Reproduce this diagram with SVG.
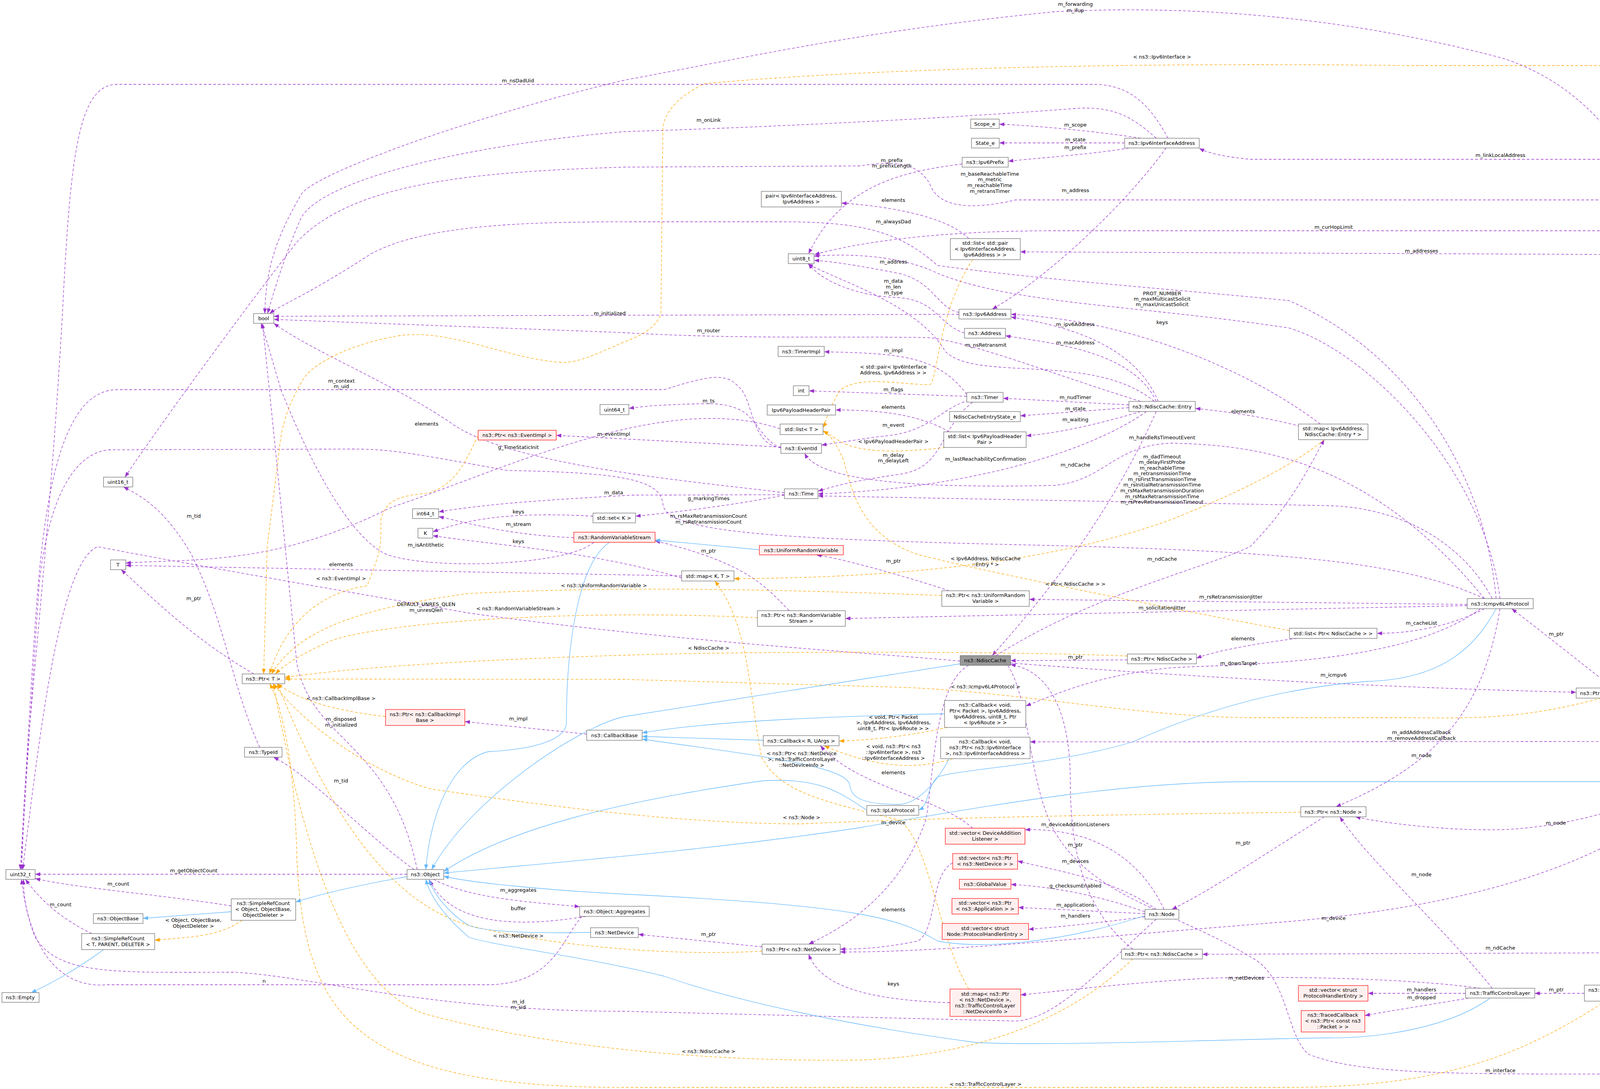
<svg xmlns="http://www.w3.org/2000/svg" width="4821" height="2789" viewBox="0 0 4821 2789">
<style>
text{font-family:"DejaVu Sans","Liberation Sans",sans-serif;font-size:13px;fill:#000}
.nd text,text.c{text-anchor:middle}
.nd rect{fill:#fff;stroke:#666;stroke-width:1.2}
.nd.r rect{fill:#fff0f0;stroke:#f00}
.nd.g rect{fill:#999;stroke:#666}
.p{fill:none;stroke:#9a32cd;stroke-width:1.3;stroke-dasharray:7,5;marker-end:url(#mp)}
.o{fill:none;stroke:#ffa500;stroke-width:1.3;stroke-dasharray:7,5;marker-end:url(#mo)}
.b{fill:none;stroke:#63b8ff;stroke-width:1.3;marker-end:url(#mb)}
</style>
<defs>
<marker id="mp" markerUnits="userSpaceOnUse" markerWidth="14" markerHeight="12" refX="13" refY="5" orient="auto"><path d="M0,0L13,5L0,10z" fill="#9a32cd"/></marker>
<marker id="mo" markerUnits="userSpaceOnUse" markerWidth="14" markerHeight="12" refX="13" refY="5" orient="auto"><path d="M0,0L13,5L0,10z" fill="#ffa500"/></marker>
<marker id="mb" markerUnits="userSpaceOnUse" markerWidth="14" markerHeight="12" refX="13" refY="5" orient="auto"><path d="M0,0L13,5L0,10z" fill="#63b8ff"/></marker>
</defs>
<rect width="4821" height="2789" fill="#fff"/>
<g id="edges">
<path class="p" d="M4430,1886C4400,900 4300,300 3850,150C3400,30 3000,15 2700,30C2200,80 1900,150 1600,205C1200,300 790,450 770,500C700,620 680,700 678,803"/>
<path class="p" d="M2990,354C2950,280 2900,216 2800,216L300,216C200,216 180,400 160,800C120,1500 60,1900 55,2227"/>
<path class="p" d="M2960,354C2900,300 2850,270 2750,278C2200,320 1600,337 1600,337C1200,370 820,460 770,560C730,650 700,750 685,803"/>
<path class="p" d="M2920,354C2800,335 2650,322 2558,318"/>
<path class="p" d="M2879,366L2558,366"/>
<path class="p" d="M2890,379C2800,395 2650,405 2581,413"/>
<path class="p" d="M2463,420C2300,440 2150,480 2070,650"/>
<path class="p" d="M4420,1886C4380,1000 4330,560 4150,512L2600,512C2480,540 2400,530 2380,470C2350,420 2300,410 2200,425L1600,428C1200,440 900,470 760,620C650,760 400,1100 320,1222"/>
<path class="p" d="M2985,379C2900,500 2700,700 2540,792"/>
<path class="p" d="M2480,611C2430,560 2300,530 2154,520"/>
<path class="p" d="M3830,1533C3800,1200 3600,900 3300,770C3000,740 2700,720 2400,680C2300,590 2200,568 2000,568L1660,568C1400,568 1100,568 950,650C780,760 720,780 690,803"/>
<path class="p" d="M4425,1886C4400,900 4300,600 4200,591L2700,591C2400,591 2200,620 2085,652"/>
<path class="p" d="M4415,1886C4380,1100 4300,700 4170,652L2612,645"/>
<path class="p" d="M4435,1886C4420,1000 4400,500 4250,408L3200,408C3120,400 3090,390 3070,380"/>
<path class="p" d="M2455,800C2400,790 2390,720 2300,700C2200,680 2120,668 2084,667"/>
<path class="p" d="M2469,853C2400,830 2400,770 2300,762C2200,760 2100,720 2070,675"/>
<path class="p" d="M3840,1533C3800,1200 3500,900 3300,840C2900,780 2600,780 2400,700C2300,650 2150,650 2084,656"/>
<path class="p" d="M3380,1086C3200,950 2900,820 2588,805"/>
<path class="p" d="M2455,805L701,810"/>
<path class="p" d="M2920,1028C2700,960 2500,880 2380,865C2200,860 1900,870 1600,852L701,818"/>
<path class="p" d="M2965,1028C2900,870 2700,830 2588,812"/>
<path class="p" d="M2960,1028C2900,900 2700,880 2574,860"/>
<path class="p" d="M2955,1028C2800,900 2500,980 2420,900C2350,780 2150,720 2068,676"/>
<path class="p" d="M2475,1010C2400,910 2300,905 2110,901"/>
<path class="p" d="M2475,1015L2071,1001"/>
<path class="p" d="M2890,1037L2568,1020"/>
<path class="p" d="M1999,1148C1920,1110 1950,1030 1800,1034C1700,1036 1650,1040 1610,1046"/>
<path class="p" d="M2430,1106C2350,1060 2250,1050 2139,1050"/>
<path class="p" d="M2890,1044L2612,1065"/>
<path class="p" d="M2920,1054C2800,1090 2700,1110 2627,1116"/>
<path class="p" d="M2480,1025C2400,1050 2380,1110 2250,1118L2103,1140"/>
<path class="p" d="M2490,1030C2400,1100 2420,1200 2300,1215C2200,1230 2150,1240 2094,1258"/>
<path class="p" d="M2935,1054C2800,1150 2500,1250 2094,1265"/>
<path class="p" d="M2960,1054C2850,1300 2700,1500 2540,1679"/>
<path class="p" d="M3800,1533C3500,1165 3200,1140 3000,1135C2850,1140 2830,1230 2700,1243C2400,1250 2100,1240 2060,1161"/>
<path class="p" d="M3820,1533C3750,1400 3600,1300 3400,1295L2094,1270"/>
<path class="p" d="M2008,1268C1900,1290 1750,1310 1627,1322"/>
<path class="p" d="M3800,1533C3600,1440 3300,1410 2600,1395C2000,1380 1700,1365 1697,1290C1690,1230 1600,1210 1300,1205C1050,1160 1000,1150 900,1150L280,1152C180,1160 120,1300 100,1500C80,1800 60,2100 55,2227"/>
<path class="p" d="M1999,1146C1920,1140 1930,1020 1890,990C1860,955 1820,960 1700,998L300,998C150,998 110,1300 90,1600C70,1900 60,2100 52,2227"/>
<path class="p" d="M1997,1098C1700,1000 1300,1200 1000,1300C700,1450 500,1430 322,1442"/>
<path class="p" d="M1745,1475L322,1448"/>
<path class="p" d="M1999,1145L1424,1115"/>
<path class="p" d="M2008,1262C1800,1235 1300,1195 1150,1080C1000,980 800,900 701,828"/>
<path class="p" d="M2008,1267L1620,1268C1400,1280 1250,1290 1123,1311"/>
<path class="p" d="M1518,1322C1300,1310 1200,1330 1108,1362"/>
<path class="p" d="M1469,1377C1300,1370 1200,1340 1123,1323"/>
<path class="p" d="M1745,1480C1500,1410 1300,1400 1108,1372"/>
<path class="p" d="M1520,1389C1450,1450 1100,1460 990,1420C900,1380 800,1200 720,1000C690,900 680,860 668,828"/>
<path class="p" d="M650,1726C500,1640 400,1540 310,1459"/>
<path class="p" d="M2458,1693C2200,1670 1700,1640 1200,1570C800,1500 400,1430 250,1400C150,1440 100,1900 58,2227"/>
<path class="p" d="M1502,1880L1190,1848"/>
<path class="p" d="M1068,2227C1000,1900 800,1900 760,1700C720,1300 690,1000 672,828"/>
<path class="p" d="M1060,2227C950,2150 800,1990 700,1939"/>
<path class="p" d="M665,1914C590,1750 580,1600 490,1420C420,1300 360,1270 316,1247"/>
<path class="p" d="M1042,2239L90,2239"/>
<path class="p" d="M592,2320C400,2290 200,2275 90,2250"/>
<path class="p" d="M235,2391C150,2350 100,2300 65,2252"/>
<path class="p" d="M1110,2252C1200,2300 1350,2310 1484,2322"/>
<path class="p" d="M1500,2347C1300,2380 1150,2360 1100,2254"/>
<path class="p" d="M1490,2347C1440,2400 1420,2520 1250,2522L270,2522C180,2530 80,2470 55,2252"/>
<path class="p" d="M2960,2354C2800,2500 2700,2610 2600,2615L1600,2590C1100,2590 800,2500 600,2490C300,2490 150,2500 90,2400C70,2350 60,2300 60,2252"/>
<path class="p" d="M1951,2425L1634,2393"/>
<path class="p" d="M2432,2568C2200,2560 2100,2520 2070,2444"/>
<path class="p" d="M2439,2210C2380,2240 2400,2380 2350,2410C2250,2430 2200,2430 2151,2431"/>
<path class="p" d="M2490,2121C2400,2040 2200,2020 2100,1910"/>
<path class="p" d="M2480,1704C2390,1750 2390,2000 2370,2100C2300,2300 2150,2380 2070,2418"/>
<path class="p" d="M2020,1564C1950,1490 1900,1440 1677,1385"/>
<path class="p" d="M2430,1513C2300,1470 2150,1430 2090,1421"/>
<path class="p" d="M2550,1679C2800,1520 3100,1450 3200,1400C3300,1300 3350,1200 3390,1126"/>
<path class="p" d="M3756,1548L2635,1535"/>
<path class="p" d="M3756,1551L2164,1584"/>
<path class="p" d="M3320,1635C3200,1650 3100,1670 3063,1686"/>
<path class="p" d="M2886,1690L2587,1692"/>
<path class="p" d="M3790,1559C3600,1700 3200,1700 3000,1710C2800,1730 2700,1780 2626,1808"/>
<path class="p" d="M2587,1698C3000,1730 3500,1760 4035,1773"/>
<path class="p" d="M2960,2329C2850,2250 2700,2230 2605,2205"/>
<path class="p" d="M2980,2329C2920,2200 2800,2120 2624,2125"/>
<path class="p" d="M2931,2335C2800,2290 2700,2272 2588,2265"/>
<path class="p" d="M2931,2340L2607,2324"/>
<path class="p" d="M2931,2348C2800,2365 2700,2375 2633,2380"/>
<path class="p" d="M3390,2092C3250,2180 3100,2280 3000,2329"/>
<path class="p" d="M4400,1912C4300,2100 4000,2300 3300,2360C2800,2400 2400,2440 2151,2438"/>
<path class="p" d="M4410,1912C4350,2200 4300,2430 4200,2440L3078,2444"/>
<path class="p" d="M3790,2531C3600,2505 3300,2500 3100,2505C2900,2515 2700,2540 2613,2548"/>
<path class="p" d="M3840,1559C3800,1800 3700,1950 3420,2066"/>
<path class="p" d="M4410,1912C4300,2050 4000,2130 3800,2125C3700,2125 3550,2110 3470,2092"/>
<path class="p" d="M3820,2531C3700,2380 3500,2200 3430,2092"/>
<path class="p" d="M3800,1559C3700,1610 3600,1622 3525,1622"/>
<path class="p" d="M4130,1762C4050,1700 3950,1620 3870,1559"/>
<path class="p" d="M4368,1899L2637,1900"/>
<path class="p" d="M4597,1899L4506,1899"/>
<path class="p" d="M4430,1912C4420,2200 4400,2470 4260,2523"/>
<path class="p" d="M3752,2544L3502,2544"/>
<path class="p" d="M3760,2556C3650,2575 3550,2590 3494,2601"/>
<path class="p" d="M4056,2544L3929,2544"/>
<path class="p" d="M2580,1704C2640,1800 2630,2000 2700,2130C2800,2300 3000,2330 3200,2450C3300,2500 3290,2650 3350,2700C3500,2760 3800,2750 4400,2750C4550,2750 4600,2300 4706,1912"/>
<path class="p" d="M2900,2431C2800,2350 2740,2230 2740,2000C2740,1850 2700,1720 2587,1702"/>
<path class="p" d="M3340,1095C3250,1070 3150,1055 3060,1046"/>
<path class="o" d="M4706,1886C4650,1200 4550,400 4450,190C4430,170 4420,168 4400,168L3600,168C3000,160 2300,170 1804,214C1750,240 1700,280 1697,330L1692,803C1680,840 1640,860 1600,875C1530,905 1480,930 1438,928C1300,920 1150,840 1020,860C900,880 800,930 775,973C730,1050 720,1100 714,1160L684,1400L675,1726"/>
<path class="o" d="M2490,665C2400,800 2400,980 2380,985C2300,985 2200,960 2150,1000C2120,1050 2110,1090 2107,1095"/>
<path class="o" d="M2420,1146C2300,1160 2200,1160 2150,1130L2107,1103"/>
<path class="o" d="M3301,1615C3000,1560 2500,1460 2350,1420C2200,1370 2180,1250 2160,1180C2140,1130 2120,1110 2107,1105"/>
<path class="o" d="M3390,1126C3300,1200 3150,1270 3000,1330C2700,1440 2300,1480 1879,1482"/>
<path class="o" d="M2480,2533C2400,2400 2380,2150 2300,2100C2100,2050 2000,2030 1950,1940C1920,1800 1920,1600 1830,1488"/>
<path class="o" d="M1224,1116C1200,1160 1178,1235 1100,1262C1040,1270 990,1270 975,1330C975,1400 979,1400 940,1500C900,1507 750,1530 690,1726"/>
<path class="o" d="M2411,1525C2000,1510 1600,1500 1200,1520C900,1560 760,1620 695,1726"/>
<path class="o" d="M1939,1582C1500,1560 1000,1590 850,1640C780,1670 730,1700 705,1726"/>
<path class="o" d="M2886,1680C2500,1665 1800,1670 1600,1678C1200,1690 900,1710 729,1735"/>
<path class="o" d="M4100,1788C3900,1840 3800,1840 3600,1838L3200,1838C2900,1835 2600,1770 2300,1760L1600,1740L729,1739"/>
<path class="o" d="M987,1835C850,1820 760,1790 710,1751"/>
<path class="o" d="M3330,2080C3000,2085 2500,2090 2052,2110C1800,2110 1500,2080 1100,2020C900,1960 750,1820 700,1751"/>
<path class="o" d="M1951,2436C1700,2450 1400,2420 1200,2370C1000,2310 850,2100 710,1751"/>
<path class="o" d="M2900,2456C2800,2550 2600,2700 2200,2715C1800,2720 1400,2680 1100,2600C900,2550 780,2200 700,1751"/>
<path class="o" d="M4110,2564C3900,2700 3700,2784 3300,2785L1600,2785C900,2785 780,2600 760,2200C755,1950 720,1800 690,1751"/>
<path class="o" d="M620,2357C560,2400 480,2400 396,2408"/>
<path class="o" d="M2425,1863C2350,1880 2250,1895 2148,1898"/>
<path class="o" d="M2440,1943C2350,1970 2250,1970 2110,1910"/>
<path class="b" d="M1944,1408L1677,1383"/>
<path class="b" d="M1560,1389C1470,1450 1450,1700 1450,1850C1450,1900 1350,1920 1250,1925C1150,1950 1100,2100 1090,2227"/>
<path class="b" d="M2458,1700C2000,1770 1700,1820 1600,1835C1480,1860 1200,2050 1105,2227"/>
<path class="b" d="M2418,1828C2100,1835 1800,1850 1644,1877"/>
<path class="b" d="M1954,1896L1644,1886"/>
<path class="b" d="M2430,1943C2400,2000 2350,2060 2300,2060C2200,2060 2180,2040 2175,2010C2170,1960 1900,1930 1644,1893"/>
<path class="b" d="M2219,2075C2150,2030 2100,1990 1950,2000C1600,2050 1300,2120 1136,2232"/>
<path class="b" d="M3830,1559C3780,1650 3700,1740 3500,1745C3300,1760 3100,1810 2900,1900C2700,1960 2450,1970 2400,1990C2370,2020 2380,2060 2352,2075"/>
<path class="b" d="M4420,1912C4350,1990 4300,2000 4150,2002L3200,2002C2900,2002 2600,2050 2200,2120C1800,2180 1400,2210 1136,2236"/>
<path class="b" d="M2931,2345C2700,2420 2500,2430 2400,2410C2300,2350 2200,2320 1600,2290C1400,2280 1200,2260 1136,2244"/>
<path class="b" d="M1512,2388C1400,2390 1250,2390 1200,2370C1150,2340 1110,2290 1098,2252"/>
<path class="b" d="M3815,2556C3700,2640 3500,2660 3400,2658C3200,2660 2700,2680 2500,2670C2200,2630 1900,2570 1700,2500C1500,2450 1250,2420 1200,2400C1130,2340 1100,2290 1090,2252"/>
<path class="b" d="M1042,2245C900,2270 820,2290 757,2310"/>
<path class="b" d="M592,2335L366,2352"/>
<path class="b" d="M265,2432C200,2480 130,2520 80,2542"/>
<text class="c" x="2753" y="15">m_forwarding</text><text class="c" x="2753" y="31">m_ifup</text>
<text class="c" x="2975" y="150">&lt; ns3::Ipv6Interface &gt;</text>
<text class="c" x="1326" y="211">m_nsDadUid</text>
<text class="c" x="1814" y="312">m_onLink</text>
<text class="c" x="2753" y="324">m_scope</text>
<text class="c" x="2753" y="362">m_state</text>
<text class="c" x="2753" y="382">m_prefix</text>
<text class="c" x="3841" y="402">m_linkLocalAddress</text>
<text class="c" x="2283" y="415">m_prefix</text><text class="c" x="2283" y="429">m_prefixLength</text>
<text class="c" x="2534" y="450">m_baseReachableTime</text><text class="c" x="2534" y="464">m_metric</text><text class="c" x="2534" y="479">m_reachableTime</text><text class="c" x="2534" y="494">m_retransTimer</text>
<text class="c" x="2753" y="492">m_address</text>
<text class="c" x="2287" y="517">elements</text>
<text class="c" x="2287" y="572">m_alwaysDad</text>
<text class="c" x="3414" y="586">m_curHopLimit</text>
<text class="c" x="3639" y="647">m_addresses</text>
<text class="c" x="2287" y="675">m_address</text>
<text class="c" x="2287" y="724">m_data</text><text class="c" x="2287" y="739">m_len</text><text class="c" x="2287" y="754">m_type</text>
<text class="c" x="2975" y="756">PROT_NUMBER</text><text class="c" x="2975" y="770">m_maxMulticastSolicit</text><text class="c" x="2975" y="784">m_maxUnicastSolicit</text>
<text class="c" x="1561" y="807">m_initialized</text>
<text class="c" x="2975" y="830">keys</text>
<text class="c" x="2753" y="835">m_ipv6Address</text>
<text class="c" x="1814" y="851">m_router</text>
<text class="c" x="2753" y="882">m_macAddress</text>
<text class="c" x="2524" y="888">m_nsRetransmit</text>
<text class="c" x="2287" y="902">m_impl</text>
<text class="c" x="2287" y="944">&lt; std::pair&lt; Ipv6Interface</text><text class="c" x="2287" y="959">Address, Ipv6Address &gt; &gt;</text>
<text class="c" x="874" y="980">m_context</text><text class="c" x="874" y="994">m_uid</text>
<text class="c" x="2287" y="1002">m_flags</text>
<text class="c" x="2753" y="1022">m_nudTimer</text>
<text class="c" x="1814" y="1031">m_ts</text>
<text class="c" x="2287" y="1047">elements</text>
<text class="c" x="2753" y="1051">m_state</text>
<text class="c" x="3182" y="1058">elements</text>
<text class="c" x="2753" y="1079">m_waiting</text>
<text class="c" x="1092" y="1090">elements</text>
<text class="c" x="2287" y="1093">m_event</text>
<text class="c" x="1571" y="1116">m_eventImpl</text>
<text class="c" x="2975" y="1125">m_handleRsTimeoutEvent</text>
<text class="c" x="2287" y="1135">&lt; Ipv6PayloadHeaderPair &gt;</text>
<text class="c" x="1327" y="1150">g_TimeStaticInit</text>
<text class="c" x="2287" y="1170">m_delay</text><text class="c" x="2287" y="1184">m_delayLeft</text>
<text class="c" x="2523" y="1180">m_lastReachabilityConfirmation</text>
<text class="c" x="2753" y="1195">m_ndCache</text>
<text class="c" x="2975" y="1174">m_dadTimeout</text><text class="c" x="2975" y="1188">m_delayFirstProbe</text><text class="c" x="2975" y="1203">m_reachableTime</text><text class="c" x="2975" y="1217">m_retransmissionTime</text><text class="c" x="2975" y="1232">m_rsFirstTransmissionTime</text><text class="c" x="2975" y="1246">m_rsInitialRetransmissionTime</text><text class="c" x="2975" y="1261">m_rsMaxRetransmissionDuration</text><text class="c" x="2975" y="1276">m_rsMaxRetransmissionTime</text><text class="c" x="2975" y="1290">m_rsPrevRetransmissionTimeout</text>
<text class="c" x="1571" y="1266">m_data</text>
<text class="c" x="1814" y="1281">g_markingTimes</text>
<text class="c" x="1327" y="1315">keys</text>
<text class="c" x="1814" y="1326">m_rsMaxRetransmissionCount</text><text class="c" x="1814" y="1341">m_rsRetransmissionCount</text>
<text class="c" x="496" y="1326">m_tid</text>
<text class="c" x="1327" y="1347">m_stream</text>
<text class="c" x="1327" y="1391">keys</text>
<text class="c" x="1090" y="1400">m_isAntithetic</text>
<text class="c" x="1814" y="1415">m_ptr</text>
<text class="c" x="2287" y="1441">m_ptr</text>
<text class="c" x="2975" y="1436">m_ndCache</text>
<text class="c" x="2523" y="1435">&lt; Ipv6Address, NdiscCache</text><text class="c" x="2523" y="1450">::Entry * &gt;</text>
<text class="c" x="873" y="1450">elements</text>
<text class="c" x="873" y="1486">&lt; ns3::EventImpl &gt;</text>
<text class="c" x="2753" y="1500">&lt; Ptr&lt; NdiscCache &gt; &gt;</text>
<text class="c" x="1546" y="1504">&lt; ns3::UniformRandomVariable &gt;</text>
<text class="c" x="3151" y="1533">m_rsRetransmissionJitter</text>
<text class="c" x="496" y="1537">m_ptr</text>
<text class="c" x="1091" y="1552">DEFAULT_UNRES_QLEN</text><text class="c" x="1091" y="1567">m_unresQlen</text>
<text class="c" x="2975" y="1561">m_solicitationJitter</text>
<text class="c" x="1327" y="1563">&lt; ns3::RandomVariableStream &gt;</text>
<text class="c" x="3639" y="1600">m_cacheList</text>
<text class="c" x="3984" y="1628">m_ptr</text>
<text class="c" x="3182" y="1640">elements</text>
<text class="c" x="1814" y="1664">&lt; NdiscCache &gt;</text>
<text class="c" x="2753" y="1687">m_ptr</text>
<text class="c" x="3171" y="1703">m_downTarget</text>
<text class="c" x="3414" y="1733">m_icmpv6</text>
<text class="c" x="2523" y="1763">&lt; ns3::Icmpv6L4Protocol &gt;</text>
<text class="c" x="873" y="1793">&lt; ns3::CallbackImplBase &gt;</text>
<text class="c" x="2287" y="1841">&lt; void, Ptr&lt; Packet</text><text class="c" x="2287" y="1855">&gt;, Ipv6Address, Ipv6Address,</text><text class="c" x="2287" y="1870">uint8_t, Ptr&lt; Ipv6Route &gt; &gt;</text>
<text class="c" x="1327" y="1845">m_impl</text>
<text class="c" x="873" y="1846">m_disposed</text><text class="c" x="873" y="1861">m_initialized</text>
<text class="c" x="3639" y="1880">m_addAddressCallback</text><text class="c" x="3639" y="1895">m_removeAddressCallback</text>
<text class="c" x="4554" y="1896">m_ptr</text>
<text class="c" x="2287" y="1916">&lt; void, ns3::Ptr&lt; ns3</text><text class="c" x="2287" y="1931">::Ipv6Interface &gt;, ns3</text><text class="c" x="2287" y="1946">::Ipv6InterfaceAddress &gt;</text>
<text class="c" x="2052" y="1934">&lt; ns3::Ptr&lt; ns3::NetDevice</text><text class="c" x="2052" y="1949">&gt;, ns3::TrafficControlLayer</text><text class="c" x="2052" y="1964">::NetDeviceInfo &gt;</text>
<text class="c" x="3639" y="1939">m_node</text>
<text class="c" x="2287" y="1983">elements</text>
<text class="c" x="873" y="2004">m_tid</text>
<text class="c" x="2052" y="2098">&lt; ns3::Node &gt;</text>
<text class="c" x="2287" y="2111">m_device</text>
<text class="c" x="3983" y="2112">m_node</text>
<text class="c" x="2753" y="2116">m_deviceAdditionListeners</text>
<text class="c" x="3182" y="2163">m_ptr</text>
<text class="c" x="2753" y="2168">m_ptr</text>
<text class="c" x="2753" y="2210">m_devices</text>
<text class="c" x="496" y="2234">m_getObjectCount</text>
<text class="c" x="3639" y="2244">m_node</text>
<text class="c" x="303" y="2268">m_count</text>
<text class="c" x="2753" y="2273">g_checksumEnabled</text>
<text class="c" x="1327" y="2284">m_aggregates</text>
<text class="c" x="155" y="2321">m_count</text>
<text class="c" x="2753" y="2322">m_applications</text>
<text class="c" x="1327" y="2331">buffer</text>
<text class="c" x="2287" y="2334">elements</text>
<text class="c" x="2753" y="2350">m_handlers</text>
<text class="c" x="3414" y="2356">m_device</text>
<text class="c" x="495" y="2361">&lt; Object, ObjectBase,</text><text class="c" x="495" y="2376">ObjectDeleter &gt;</text>
<text class="c" x="1814" y="2397">m_ptr</text>
<text class="c" x="1327" y="2401">&lt; ns3::NetDevice &gt;</text>
<text class="c" x="3841" y="2432">m_ndCache</text>
<text class="c" x="4327" y="2463">m_tc</text>
<text class="c" x="3190" y="2509">m_netDevices</text>
<text class="c" x="676" y="2517">n</text>
<text class="c" x="2287" y="2524">keys</text>
<text class="c" x="3639" y="2539">m_handlers</text>
<text class="c" x="3984" y="2539">m_ptr</text>
<text class="c" x="3639" y="2559">m_dropped</text>
<text class="c" x="1327" y="2570">m_id</text><text class="c" x="1327" y="2584">m_sid</text>
<text class="c" x="1814" y="2697">&lt; ns3::NdiscCache &gt;</text>
<text class="c" x="3841" y="2746">m_interface</text>
<text class="c" x="2523" y="2781">&lt; ns3::TrafficControlLayer &gt;</text>
</g>
<g id="n_bool" class="nd"><rect x="649" y="803" width="52" height="25"/><text x="675" y="820">bool</text></g>
<g id="n_uint16" class="nd"><rect x="265" y="1222" width="75" height="25"/><text x="302" y="1239">uint16_t</text></g>
<g id="n_int64" class="nd"><rect x="1056" y="1303" width="67" height="25"/><text x="1089" y="1320">int64_t</text></g>
<g id="n_K" class="nd"><rect x="1070" y="1353" width="38" height="25"/><text x="1089" y="1370">K</text></g>
<g id="n_uint64" class="nd"><rect x="1536" y="1036" width="74" height="26"/><text x="1573" y="1054">uint64_t</text></g>
<g id="n_ptrEventImpl" class="nd r"><rect x="1224" y="1102" width="200" height="25"/><text x="1324" y="1119">ns3::Ptr&lt; ns3::EventImpl &gt;</text></g>
<g id="n_setK" class="nd"><rect x="1518" y="1314" width="109" height="25"/><text x="1572" y="1331">std::set&lt; K &gt;</text></g>
<g id="n_rvs" class="nd r"><rect x="1469" y="1363" width="208" height="26"/><text x="1573" y="1381">ns3::RandomVariableStream</text></g>
<g id="n_scope" class="nd"><rect x="2485" y="305" width="73" height="24"/><text x="2521" y="322">Scope_e</text></g>
<g id="n_state" class="nd"><rect x="2487" y="354" width="71" height="25"/><text x="2522" y="371">State_e</text></g>
<g id="n_iia" class="nd"><rect x="2879" y="354" width="191" height="25"/><text x="2974" y="371">ns3::Ipv6InterfaceAddress</text></g>
<g id="n_prefix" class="nd"><rect x="2463" y="403" width="118" height="25"/><text x="2522" y="420">ns3::Ipv6Prefix</text></g>
<g id="n_pair" class="nd"><rect x="1949" y="490" width="205" height="40"/><text x="2051" y="506">pair&lt; Ipv6InterfaceAddress,</text><text x="2051" y="521">Ipv6Address &gt;</text></g>
<g id="n_listpair" class="nd"><rect x="2433" y="611" width="179" height="54"/><text x="2522" y="627">std::list&lt; std::pair</text><text x="2522" y="642">&lt; Ipv6InterfaceAddress,</text><text x="2522" y="657">Ipv6Address &gt; &gt;</text></g>
<g id="n_uint8" class="nd"><rect x="2018" y="650" width="66" height="25"/><text x="2051" y="667">uint8_t</text></g>
<g id="n_ipv6addr" class="nd"><rect x="2455" y="792" width="133" height="25"/><text x="2521" y="809">ns3::Ipv6Address</text></g>
<g id="n_address" class="nd"><rect x="2469" y="841" width="105" height="25"/><text x="2521" y="858">ns3::Address</text></g>
<g id="n_timerimpl" class="nd"><rect x="1992" y="887" width="118" height="26"/><text x="2051" y="905">ns3::TimerImpl</text></g>
<g id="n_int" class="nd"><rect x="2031" y="988" width="40" height="25"/><text x="2051" y="1005">int</text></g>
<g id="n_timer" class="nd"><rect x="2475" y="1005" width="93" height="25"/><text x="2521" y="1022">ns3::Timer</text></g>
<g id="n_iphp" class="nd"><rect x="1964" y="1037" width="175" height="26"/><text x="2051" y="1055">Ipv6PayloadHeaderPair</text></g>
<g id="n_nces" class="nd"><rect x="2431" y="1054" width="181" height="26"/><text x="2521" y="1072">NdiscCacheEntryState_e</text></g>
<g id="n_listT" class="nd"><rect x="1997" y="1086" width="110" height="27"/><text x="2052" y="1104">std::list&lt; T &gt;</text></g>
<g id="n_listiphp" class="nd"><rect x="2416" y="1106" width="211" height="40"/><text x="2521" y="1122">std::list&lt; Ipv6PayloadHeader</text><text x="2521" y="1137">Pair &gt;</text></g>
<g id="n_eventid" class="nd"><rect x="1999" y="1136" width="104" height="25"/><text x="2051" y="1153">ns3::EventId</text></g>
<g id="n_entry" class="nd"><rect x="2890" y="1028" width="170" height="26"/><text x="2975" y="1046">ns3::NdiscCache::Entry</text></g>
<g id="n_time" class="nd"><rect x="2008" y="1252" width="86" height="25"/><text x="2051" y="1269">ns3::Time</text></g>
<g id="n_mapEntry" class="nd"><rect x="3324" y="1086" width="178" height="40"/><text x="3413" y="1102">std::map&lt; Ipv6Address,</text><text x="3413" y="1117">NdiscCache::Entry * &gt;</text></g>
<g id="n_T" class="nd"><rect x="283" y="1434" width="39" height="25"/><text x="302" y="1451">T</text></g>
<g id="n_ptrT" class="nd"><rect x="620" y="1726" width="109" height="25"/><text x="674" y="1743">ns3::Ptr&lt; T &gt;</text></g>
<g id="n_ptrCBImpl" class="nd r"><rect x="987" y="1817" width="203" height="41"/><text x="1088" y="1834">ns3::Ptr&lt; ns3::CallbackImpl</text><text x="1088" y="1849">Base &gt;</text></g>
<g id="n_cbbase" class="nd"><rect x="1502" y="1870" width="142" height="26"/><text x="1573" y="1888">ns3::CallbackBase</text></g>
<g id="n_typeid" class="nd"><rect x="626" y="1914" width="96" height="25"/><text x="674" y="1931">ns3::TypeId</text></g>
<g id="n_uint32" class="nd"><rect x="15" y="2227" width="75" height="25"/><text x="52" y="2244">uint32_t</text></g>
<g id="n_object" class="nd"><rect x="1042" y="2227" width="94" height="25"/><text x="1089" y="2244">ns3::Object</text></g>
<g id="n_srcobj" class="nd"><rect x="592" y="2302" width="165" height="55"/><text x="674" y="2318">ns3::SimpleRefCount</text><text x="674" y="2333">&lt; Object, ObjectBase,</text><text x="674" y="2348">ObjectDeleter &gt;</text></g>
<g id="n_objbase" class="nd"><rect x="239" y="2340" width="127" height="25"/><text x="302" y="2357">ns3::ObjectBase</text></g>
<g id="n_srcT" class="nd"><rect x="209" y="2391" width="187" height="41"/><text x="302" y="2408">ns3::SimpleRefCount</text><text x="302" y="2423">&lt; T, PARENT, DELETER &gt;</text></g>
<g id="n_empty" class="nd"><rect x="5" y="2542" width="95" height="25"/><text x="52" y="2559">ns3::Empty</text></g>
<g id="n_aggr" class="nd"><rect x="1484" y="2321" width="178" height="26"/><text x="1573" y="2339">ns3::Object::Aggregates</text></g>
<g id="n_netdev" class="nd"><rect x="1512" y="2376" width="122" height="25"/><text x="1573" y="2393">ns3::NetDevice</text></g>
<g id="n_urv" class="nd r"><rect x="1944" y="1397" width="215" height="24"/><text x="2051" y="1414">ns3::UniformRandomVariable</text></g>
<g id="n_mapKT" class="nd"><rect x="1745" y="1462" width="134" height="26"/><text x="1812" y="1480">std::map&lt; K, T &gt;</text></g>
<g id="n_ptrURV" class="nd"><rect x="2411" y="1513" width="224" height="40"/><text x="2523" y="1529">ns3::Ptr&lt; ns3::UniformRandom</text><text x="2523" y="1544">Variable &gt;</text></g>
<g id="n_ptrRVS" class="nd"><rect x="1939" y="1564" width="225" height="40"/><text x="2051" y="1580">ns3::Ptr&lt; ns3::RandomVariable</text><text x="2051" y="1595">Stream &gt;</text></g>
<g id="n_ndisc" class="nd g"><rect x="2458" y="1679" width="129" height="25"/><text x="2522" y="1696">ns3::NdiscCache</text></g>
<g id="n_ptrNdisc" class="nd"><rect x="2886" y="1675" width="177" height="25"/><text x="2974" y="1692">ns3::Ptr&lt; NdiscCache &gt;</text></g>
<g id="n_cb4" class="nd"><rect x="2418" y="1794" width="208" height="69"/><text x="2522" y="1810">ns3::Callback&lt; void,</text><text x="2522" y="1825">Ptr&lt; Packet &gt;, Ipv6Address,</text><text x="2522" y="1840">Ipv6Address, uint8_t, Ptr</text><text x="2522" y="1855">&lt; Ipv6Route &gt; &gt;</text></g>
<g id="n_cbR" class="nd"><rect x="1954" y="1884" width="194" height="26"/><text x="2051" y="1902">ns3::Callback&lt; R, UArgs &gt;</text></g>
<g id="n_cb3" class="nd"><rect x="2408" y="1888" width="229" height="55"/><text x="2522" y="1904">ns3::Callback&lt; void,</text><text x="2522" y="1919">ns3::Ptr&lt; ns3::Ipv6Interface</text><text x="2522" y="1934">&gt;, ns3::Ipv6InterfaceAddress &gt;</text></g>
<g id="n_ipl4" class="nd"><rect x="2219" y="2063" width="133" height="25"/><text x="2285" y="2080">ns3::IpL4Protocol</text></g>
<g id="n_vdal" class="nd r"><rect x="2420" y="2121" width="204" height="41"/><text x="2522" y="2138">std::vector&lt; DeviceAddition</text><text x="2522" y="2153">Listener &gt;</text></g>
<g id="n_vnetdev" class="nd r"><rect x="2439" y="2186" width="166" height="40"/><text x="2522" y="2202">std::vector&lt; ns3::Ptr</text><text x="2522" y="2217">&lt; ns3::NetDevice &gt; &gt;</text></g>
<g id="n_global" class="nd r"><rect x="2456" y="2252" width="132" height="25"/><text x="2522" y="2269">ns3::GlobalValue</text></g>
<g id="n_vapp" class="nd r"><rect x="2437" y="2301" width="170" height="40"/><text x="2522" y="2317">std::vector&lt; ns3::Ptr</text><text x="2522" y="2332">&lt; ns3::Application &gt; &gt;</text></g>
<g id="n_vphe" class="nd r"><rect x="2412" y="2365" width="221" height="41"/><text x="2522" y="2382">std::vector&lt; struct</text><text x="2522" y="2397">Node::ProtocolHandlerEntry &gt;</text></g>
<g id="n_node" class="nd"><rect x="2931" y="2329" width="87" height="25"/><text x="2974" y="2346">ns3::Node</text></g>
<g id="n_ptrNetDev" class="nd"><rect x="1951" y="2418" width="200" height="26"/><text x="2051" y="2436">ns3::Ptr&lt; ns3::NetDevice &gt;</text></g>
<g id="n_ptrNsNdisc" class="nd"><rect x="2871" y="2431" width="207" height="25"/><text x="2974" y="2448">ns3::Ptr&lt; ns3::NdiscCache &gt;</text></g>
<g id="n_mapNDI" class="nd r"><rect x="2432" y="2533" width="181" height="70"/><text x="2522" y="2550">std::map&lt; ns3::Ptr</text><text x="2522" y="2565">&lt; ns3::NetDevice &gt;,</text><text x="2522" y="2580">ns3::TrafficControlLayer</text><text x="2522" y="2595">::NetDeviceInfo &gt;</text></g>
<g id="n_icmpv6" class="nd"><rect x="3756" y="1533" width="169" height="26"/><text x="3840" y="1551">ns3::Icmpv6L4Protocol</text></g>
<g id="n_listPtrNdisc" class="nd"><rect x="3301" y="1609" width="224" height="26"/><text x="3413" y="1627">std::list&lt; Ptr&lt; NdiscCache &gt; &gt;</text></g>
<g id="n_ptrIcmpv6" class="nd"><rect x="4035" y="1762" width="248" height="26"/><text x="4159" y="1780">ns3::Ptr&lt; ns3::Icmpv6L4Protocol &gt;</text></g>
<g id="n_ipv6if" class="nd"><rect x="4368" y="1886" width="138" height="26"/><text x="4437" y="1904">ns3::Ipv6Interface</text></g>
<g id="n_ptrIpv6if" class="nd"><rect x="4597" y="1886" width="219" height="26"/><text x="4706" y="1904">ns3::Ptr&lt; ns3::Ipv6Interface &gt;</text></g>
<g id="n_ptrNode" class="nd"><rect x="3330" y="2066" width="167" height="26"/><text x="3413" y="2084">ns3::Ptr&lt; ns3::Node &gt;</text></g>
<g id="n_vphe2" class="nd r"><rect x="3324" y="2524" width="178" height="40"/><text x="3413" y="2540">std::vector&lt; struct</text><text x="3413" y="2555">ProtocolHandlerEntry &gt;</text></g>
<g id="n_tcl" class="nd"><rect x="3752" y="2531" width="177" height="25"/><text x="3840" y="2548">ns3::TrafficControlLayer</text></g>
<g id="n_ptrTCL" class="nd"><rect x="4056" y="2523" width="205" height="41"/><text x="4158" y="2540">ns3::Ptr&lt; ns3::TrafficControl</text><text x="4158" y="2555">Layer &gt;</text></g>
<g id="n_traced" class="nd r"><rect x="3331" y="2588" width="163" height="55"/><text x="3412" y="2604">ns3::TracedCallback</text><text x="3412" y="2619">&lt; ns3::Ptr&lt; const ns3</text><text x="3412" y="2634">::Packet &gt; &gt;</text></g>
</svg>
